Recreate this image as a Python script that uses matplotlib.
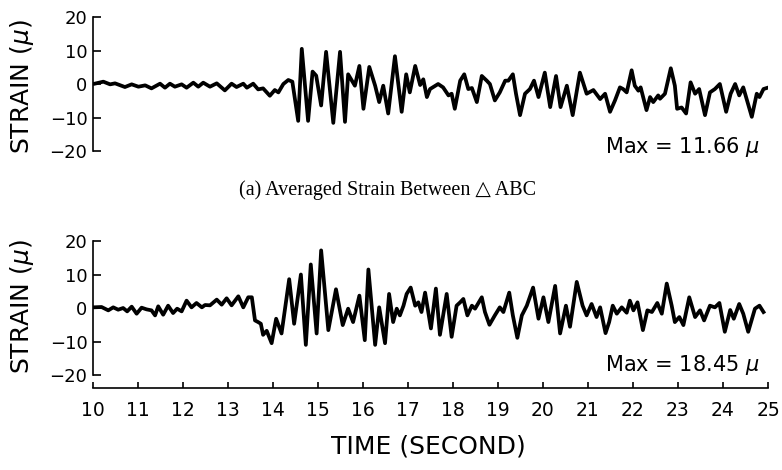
import matplotlib
matplotlib.use('Agg')
import matplotlib.pyplot as plt

# (a) averaged strain between triangle ABC (time s, strain micro)
time_a = [10.04, 10.23, 10.38, 10.49, 10.71, 10.86, 11.01, 11.16, 11.30, 11.49,
          11.60, 11.71, 11.82, 11.97, 12.08, 12.23, 12.34, 12.45, 12.60, 12.75,
          12.93, 13.08, 13.19, 13.34, 13.42, 13.56, 13.67, 13.78, 13.93, 14.04,
          14.12, 14.23, 14.34, 14.43, 14.56, 14.64, 14.78, 14.88, 14.96, 15.07,
          15.18, 15.34, 15.49, 15.60, 15.67, 15.82, 15.92, 16.01, 16.14, 16.27,
          16.36, 16.45, 16.56, 16.71, 16.86, 16.96, 17.04, 17.16, 17.27, 17.34,
          17.42, 17.49, 17.67, 17.78, 17.90, 17.97, 18.04, 18.16, 18.25, 18.34,
          18.42, 18.53, 18.64, 18.75, 18.82, 18.93, 19.04, 19.16, 19.23, 19.33,
          19.40, 19.49, 19.60, 19.71, 19.80, 19.90, 20.04, 20.16, 20.29, 20.39,
          20.53, 20.66, 20.82, 20.97, 21.12, 21.27, 21.38, 21.49, 21.60, 21.71,
          21.78, 21.86, 21.97, 22.04, 22.12, 22.17, 22.30, 22.38, 22.45, 22.56,
          22.60, 22.71, 22.84, 22.93, 22.98, 23.08, 23.18, 23.28, 23.38, 23.47,
          23.60, 23.71, 23.82, 23.93, 24.07, 24.17, 24.27, 24.36, 24.45, 24.64,
          24.75, 24.81, 24.90, 24.97]
strain_a = [0.1, 0.7, -0.1, 0.2, -0.9, -0.1, -0.8, -0.4, -1.3, 0.1,
            -1.1, 0.1, -0.8, -0.1, -1.1, 0.4, -0.8, 0.4, -0.8, 0.2,
            -1.9, 0.1, -0.9, 0.1, -1.1, 0.1, -1.6, -1.3, -3.5, -1.8,
            -2.5, 0.0, 1.2, 0.7, -11.0, 10.5, -11.0, 3.7, 2.5, -6.4,
            9.6, -11.6, 9.6, -11.3, 2.9, -0.5, 5.4, -7.4, 5.1, -0.5,
            -5.4, -0.5, -8.8, 8.3, -8.3, 2.9, -2.5, 5.4, -0.3, 1.4,
            -3.9, -1.5, 0.0, -1.0, -3.4, -2.9, -7.4, 1.0, 2.9, -1.5,
            -1.2, -5.4, 2.4, 1.0, 0.0, -4.9, -2.5, 1.0, 1.0, 2.9,
            -2.9, -9.3, -2.9, -1.5, 1.0, -3.9, 3.4, -6.9, 2.4, -6.9,
            -0.5, -9.3, 3.4, -2.9, -1.8, -4.5, -2.9, -8.3, -4.9, -1.0,
            -1.5, -2.5, 4.1, -0.5, -2.0, -1.0, -7.8, -3.9, -5.4, -3.4,
            -4.4, -2.9, 4.7, -0.5, -7.4, -7.0, -8.8, 0.5, -2.9, -1.5,
            -9.3, -2.5, -1.5, 0.0, -8.3, -2.9, 0.0, -3.4, -1.0, -9.8,
            -2.9, -3.9, -1.5, -1.2]

# (b) second record
time_b = [10.01, 10.19, 10.34, 10.45, 10.56, 10.67, 10.76, 10.86, 10.97, 11.08,
          11.19, 11.30, 11.38, 11.45, 11.56, 11.67, 11.78, 11.87, 11.97, 12.08,
          12.19, 12.30, 12.42, 12.49, 12.60, 12.75, 12.86, 12.97, 13.08, 13.23,
          13.34, 13.45, 13.53, 13.60, 13.67, 13.73, 13.78, 13.86, 13.97, 14.07,
          14.19, 14.36, 14.47, 14.62, 14.73, 14.84, 14.97, 15.07, 15.23, 15.40,
          15.55, 15.67, 15.78, 15.92, 16.04, 16.12, 16.27, 16.36, 16.49, 16.58,
          16.67, 16.75, 16.82, 16.90, 16.97, 17.06, 17.16, 17.23, 17.30, 17.38,
          17.51, 17.62, 17.71, 17.86, 17.97, 18.08, 18.16, 18.23, 18.32, 18.42,
          18.49, 18.64, 18.71, 18.81, 18.93, 19.04, 19.12, 19.25, 19.33, 19.43,
          19.53, 19.64, 19.78, 19.90, 20.01, 20.12, 20.27, 20.38, 20.51, 20.60,
          20.75, 20.88, 20.97, 21.08, 21.19, 21.27, 21.39, 21.47, 21.55, 21.64,
          21.75, 21.86, 21.93, 22.01, 22.10, 22.22, 22.32, 22.42, 22.54, 22.64,
          22.75, 22.86, 22.93, 23.03, 23.12, 23.25, 23.38, 23.49, 23.58, 23.71,
          23.82, 23.92, 24.04, 24.16, 24.24, 24.36, 24.45, 24.56, 24.71, 24.81,
          24.90]
strain_b = [0.2, 0.3, -0.7, 0.2, -0.5, 0.0, -1.0, 0.4, -1.7, 0.1,
            -0.4, -0.7, -2.2, 0.5, -2.0, 0.7, -1.5, -0.2, -1.0, 2.2,
            0.2, 1.5, 0.2, 0.9, 0.8, 2.5, 1.0, 2.9, 0.8, 3.5,
            0.2, 3.2, 3.2, -3.7, -4.2, -4.7, -8.0, -6.8, -10.5, -3.2,
            -7.6, 8.6, -4.7, 10.0, -11.0, 13.0, -7.6, 17.2, -6.6, 5.6,
            -5.1, -0.2, -4.2, 3.7, -9.6, 11.5, -11.0, 0.2, -10.5, 4.2,
            -4.2, -0.2, -2.2, 0.7, 4.2, 6.1, 0.7, 1.7, -1.2, 4.6,
            -6.1, 5.8, -8.0, 4.2, -8.6, 0.7, 1.7, 2.7, -2.2, 0.7,
            -0.2, 3.2, -1.2, -5.0, -2.2, 0.2, -1.2, 4.6, -2.2, -8.9,
            -2.2, 0.7, 6.1, -3.2, 3.2, -4.2, 6.6, -7.6, 0.7, -5.6,
            7.8, 0.7, -2.2, 1.2, -2.7, 0.2, -7.5, -4.2, 0.7, -1.7,
            0.2, -1.4, 2.2, -0.7, 1.7, -6.6, -0.7, -1.2, 1.5, -1.7,
            7.3, 0.7, -4.2, -2.7, -5.1, 3.2, -2.7, -0.7, -3.7, 0.7,
            0.2, 1.5, -7.1, -0.6, -3.2, 1.2, -1.7, -7.1, -0.2, 0.7,
            -1.2]

yticks = [-20, -10, 0, 10, 20]
xticks = list(range(10, 26))
max_a = '11.66'
max_b = '18.45'

fig = plt.figure(figsize=(7.82, 4.70), dpi=100)
ax1 = fig.add_axes([0.1189, 0.6787, 0.8632, 0.2851])
ax2 = fig.add_axes([0.1189, 0.2021, 0.8632, 0.2851])

for ax, t, s in [(ax1, time_a, strain_a), (ax2, time_b, strain_b)]:
    ax.plot(t, s, color='black', lw=2.7, solid_joinstyle='round')
    ax.set_xlim(10, 25)
    ax.set_ylim(-20, 20)
    ax.set_yticks(yticks)
    ax.set_yticklabels([str(v).replace('-', '\u2212') for v in yticks], fontsize=13)
    ax.spines['top'].set_visible(False)
    ax.spines['right'].set_visible(False)
    ax.spines['left'].set_bounds(-20, 20)
    ax.spines['left'].set_linewidth(1.2)
    ax.tick_params(axis='y', direction='in', length=6, width=1.2, pad=4)

ax1.spines['bottom'].set_visible(False)
ax1.set_xticks([])

ax2.spines['bottom'].set_position(('outward', 9.5))
ax2.spines['bottom'].set_linewidth(1.2)
ax2.set_xticks(xticks)
ax2.set_xticklabels([str(v) for v in xticks], fontsize=13.5)
ax2.tick_params(axis='x', direction='in', length=4, width=1.2, pad=9)

fig.text(0.028, 0.815, 'STRAIN ($\\mu$)', rotation=90, ha='center', va='center', fontsize=18)
fig.text(0.028, 0.347, 'STRAIN ($\\mu$)', rotation=90, ha='center', va='center', fontsize=18)
fig.text(0.972, 0.687, 'Max = ' + max_a + ' $\\mu$', ha='right', va='center', fontsize=15)
fig.text(0.972, 0.223, 'Max = ' + max_b + ' $\\mu$', ha='right', va='center', fontsize=15)
fig.text(0.496, 0.596, '(a) Averaged Strain Between \u25b3 ABC', ha='center', va='center',
         fontsize=14.5, family=['Liberation Serif', 'DejaVu Serif'])
fig.text(0.548, 0.051, 'TIME (SECOND)', ha='center', va='center', fontsize=18)

plt.savefig('out.png', dpi=100)
